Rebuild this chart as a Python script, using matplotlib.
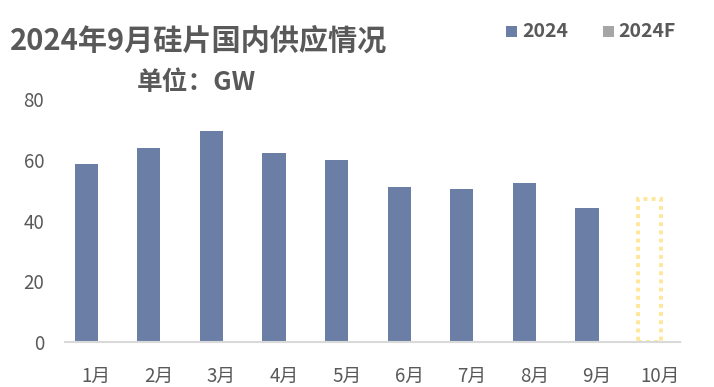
import numpy as np
import matplotlib
matplotlib.use("Agg")
from matplotlib import pyplot as plt
from matplotlib.patches import Rectangle
from matplotlib.transforms import ScaledTranslation

plt.rcParams['font.family'] = ['Noto Sans CJK SC', 'DejaVu Sans']

months = ["1月", "2月", "3月", "4月", "5月", "6月", "7月", "8月", "9月", "10月"]
supply_2024 = [58.6, 63.8, 69.4, 62.2, 59.9, 51.0, 50.3, 52.3, 44.1]
supply_2024f = [47.0]

bar_color = "#6B7FA6"
text_color = "#595959"

fig = plt.figure(figsize=(7.14, 3.87), dpi=100)
ax = fig.add_axes([0.091, 0.116, 0.861, 0.628])

x = np.arange(len(months))
ax.bar(x[:len(supply_2024)], supply_2024, width=0.37, color=bar_color, zorder=2)
# forecast bar: dotted yellow outline only
ax.bar(x[len(supply_2024):], supply_2024f, width=0.37, facecolor="none",
       edgecolor="#FFE699", linewidth=2.8, linestyle=(0, (1, 1.1)), zorder=2)

ax.set_xlim(-0.34, 9.48)
ax.set_ylim(0, 80)
ax.set_yticks([0, 20, 40, 60, 80])
ax.set_xticks(x)
ax.set_xticklabels(months)
for s in ["top", "right", "left"]:
    ax.spines[s].set_visible(False)
ax.spines["bottom"].set_color("#D9D9D9")
ax.spines["bottom"].set_linewidth(1.5)
ax.tick_params(axis="both", length=0, labelsize=13.5, colors=text_color)
ax.tick_params(axis="y", pad=15)
ax.tick_params(axis="x", pad=17)
# month labels sit a little right of the bars in the original
shift = ScaledTranslation(10 / 100, 0, fig.dpi_scale_trans)
for lab in ax.get_xticklabels():
    lab.set_transform(lab.get_transform() + shift)

fig.text(0.014, 0.895, "2024年9月硅片国内供应情况", fontsize=21, fontweight="bold",
         color=text_color, va="center")
fig.text(0.192, 0.787, "单位：GW", fontsize=18.5, fontweight="bold",
         color=text_color, va="center")

# legend
fig.patches.append(Rectangle((0.709, 0.905), 0.0155, 0.028, transform=fig.transFigure,
                             facecolor=bar_color, edgecolor="none"))
fig.text(0.731, 0.919, "2024", fontsize=14, fontweight="bold", color=text_color, va="center")
fig.patches.append(Rectangle((0.844, 0.905), 0.0155, 0.028, transform=fig.transFigure,
                             facecolor="#A6A6A6", edgecolor="none"))
fig.text(0.866, 0.919, "2024F", fontsize=14, fontweight="bold", color=text_color, va="center")

plt.savefig("out.png", dpi=100)
